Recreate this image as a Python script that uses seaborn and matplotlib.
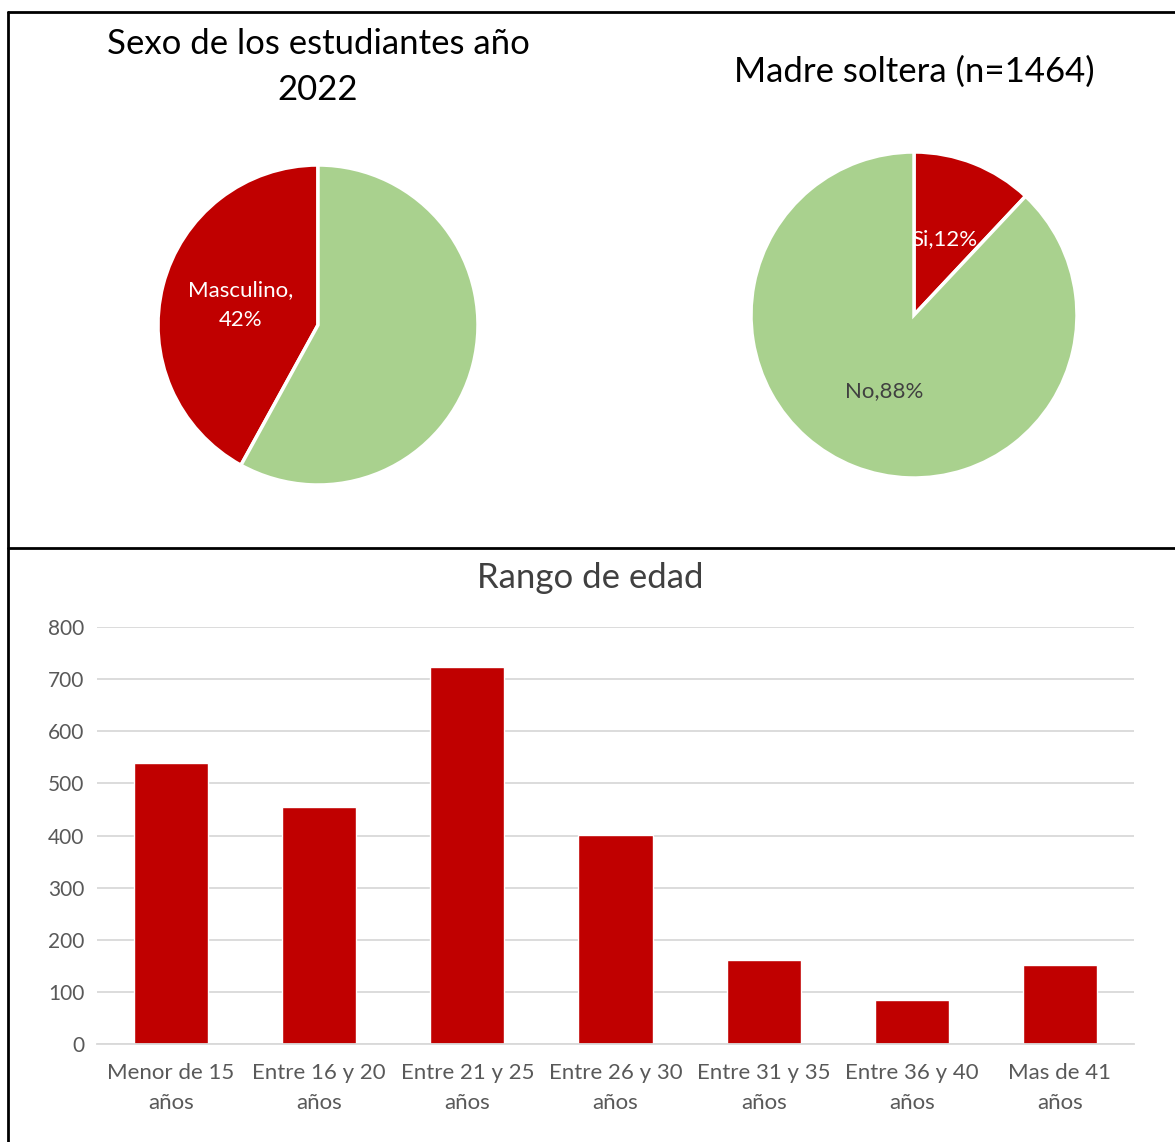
import matplotlib
matplotlib.use("Agg")
import matplotlib.pyplot as plt
import seaborn as sns
from matplotlib.lines import Line2D

# data
sexo_labels = ["Masculino", "Femenino"]
sexo_pct = [42, 58]

madre_labels = ["Si", "No"]
madre_pct = [12, 88]

edad_labels = ["Menor de 15\naños", "Entre 16 y 20\naños", "Entre 21 y 25\naños",
               "Entre 26 y 30\naños", "Entre 31 y 35\naños", "Entre 36 y 40\naños",
               "Mas de 41\naños"]
edad_counts = [539, 455, 723, 401, 161, 84, 152]

RED = "#C00000"
GREEN = "#A9D18E"
GRAY = "#595959"

sns.set_style("white")
plt.rcParams["font.family"] = ["Lato", "DejaVu Sans"]

W, H = 1175, 1142
fig = plt.figure(figsize=(W / 100, H / 100), dpi=100)


def px_axes(cx, cy, r):
    # square axes centred on a pixel position
    return fig.add_axes([(cx - r) / W, 1 - (cy + r) / H, 2 * r / W, 2 * r / H])


# --- pie 1: sexo
ax1 = px_axes(318, 325, 160)
wedges, texts, autotexts = ax1.pie(sexo_pct, colors=[RED, GREEN], startangle=90,
                                   counterclock=True, autopct="%1.0f%%", pctdistance=0.5,
                                   wedgeprops=dict(edgecolor="white", linewidth=2.5))
autotexts[0].set_text(f"{sexo_labels[0]},\n{sexo_pct[0]}%")
autotexts[0].set_color("white")
autotexts[0].set_fontsize(16)
autotexts[0].set_linespacing(1.6)
autotexts[1].set_text("")
ax1.set_xlim(-1, 1)
ax1.set_ylim(-1, 1)
fig.text(318 / W, 1 - 67 / H, "Sexo de los estudiantes año\n2022", ha="center", va="center",
         fontsize=25, linespacing=1.55, color="black")

# --- pie 2: madre soltera
ax2 = px_axes(914, 315, 163)
wedges, texts, autotexts = ax2.pie(madre_pct, colors=[RED, GREEN], startangle=90,
                                   counterclock=False, autopct="%1.0f%%", pctdistance=0.5,
                                   wedgeprops=dict(edgecolor="white", linewidth=2.5))
for t, lab, p, c in zip(autotexts, madre_labels, madre_pct, ["white", "#404040"]):
    t.set_text(f"{lab},{p}%")
    t.set_color(c)
    t.set_fontsize(16)
ax2.set_xlim(-1, 1)
ax2.set_ylim(-1, 1)
fig.text(914 / W, 1 - 72 / H, "Madre soltera (n=1464)", ha="center", va="center",
         fontsize=25, color="black")

# --- bar chart: rango de edad
ax3 = fig.add_axes([97 / W, 1 - 1044 / H, (1134 - 97) / W, (1044 - 627) / H])
sns.barplot(x=edad_labels, y=edad_counts, color=RED, width=0.5, saturation=1, ax=ax3)
ax3.set_ylim(0, 800)
ax3.set_yticks(range(0, 801, 100))
ax3.yaxis.grid(True, color="#D9D9D9", linewidth=1.3)
ax3.set_axisbelow(True)
for s in ["top", "right", "left"]:
    ax3.spines[s].set_visible(False)
ax3.spines["bottom"].set_color("#D9D9D9")
ax3.spines["bottom"].set_linewidth(1.3)
ax3.tick_params(axis="y", length=0, pad=9, labelsize=15, labelcolor=GRAY)
ax3.tick_params(axis="x", length=0, pad=14, labelsize=16, labelcolor=GRAY)
for lab in ax3.get_xticklabels():
    lab.set_linespacing(1.6)
ax3.set_xlabel("")
ax3.set_ylabel("")
fig.text(590 / W, 1 - 578 / H, "Rango de edad", ha="center", va="center",
         fontsize=25, color="#404040")

# panel borders
for xs, ys in [([8, 8], [12, H]), ([8, W], [12, 12]), ([8, W], [548, 548])]:
    fig.add_artist(Line2D([x / W for x in xs], [1 - y / H for y in ys],
                          transform=fig.transFigure, color="black", linewidth=2))

fig.savefig("out.png", dpi=100)
